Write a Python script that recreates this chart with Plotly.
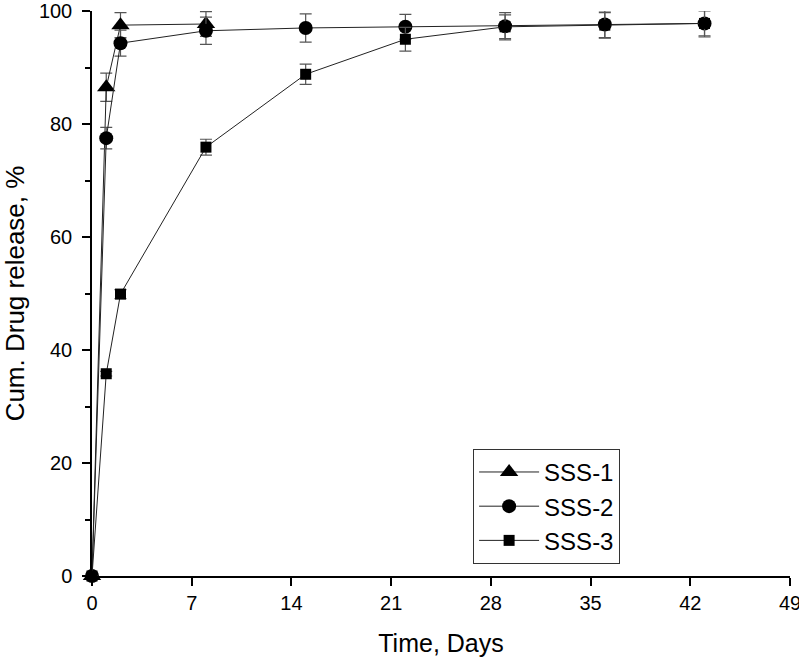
import plotly.graph_objects as go

# Data
days_1 = [0, 1, 2, 8]
sss1 = [0, 86.5, 97.5, 97.7]
sss1_err = [0, 2.5, 2.2, 2.2]

days_2 = [0, 1, 2, 8, 15, 22, 29, 36, 43]
sss2 = [0, 77.5, 94.3, 96.5, 97.0, 97.2, 97.3, 97.6, 97.8]
sss2_err = [0, 1.9, 2.3, 2.4, 2.5, 2.2, 2.4, 2.4, 2.4]

days_3 = [0, 1, 2, 8, 15, 22, 29, 36, 43]
sss3 = [0, 35.8, 49.9, 75.9, 88.8, 95.0, 97.2, 97.5, 97.8]
sss3_err = [0, 0.4, 0.8, 1.4, 1.8, 2.1, 2.1, 2.2, 2.2]

x_ticks = [0, 7, 14, 21, 28, 35, 42, 49]
y_ticks = [0, 20, 40, 60, 80, 100]

font_family = "Liberation Sans, Arial, sans-serif"

fig = go.Figure()

def add_series(x, y, err, name, symbol, size):
    fig.add_trace(go.Scatter(
        x=x, y=y, name=name, mode="lines+markers",
        line=dict(color="#222222", width=1),
        marker=dict(symbol=symbol, size=size, color="black"),
        error_y=dict(type="data", array=err, visible=True,
                     color="#555555", thickness=1.2, width=6),
        cliponaxis=False,
    ))

add_series(days_1, sss1, sss1_err, "SSS-1", "triangle-up", 16)
add_series(days_2, sss2, sss2_err, "SSS-2", "circle", 14)
add_series(days_3, sss3, sss3_err, "SSS-3", "square", 11)

fig.update_layout(
    width=799, height=659,
    margin=dict(l=92, r=9, t=11, b=83),
    paper_bgcolor="white", plot_bgcolor="white",
    font=dict(family=font_family, color="black", size=20),
    showlegend=True,
    legend=dict(
        x=0.546, y=0.225, xanchor="left", yanchor="top",
        bgcolor="white", bordercolor="#333333", borderwidth=1,
        font=dict(size=24, family=font_family),
        itemwidth=60, tracegroupgap=0,
    ),
)

fig.update_xaxes(
    range=[0, 49], tickvals=x_ticks, ticktext=[str(v) for v in x_ticks],
    showgrid=False, zeroline=False, automargin=False,
    ticklabeloverflow="allow",
    showline=True, linecolor="black", linewidth=1.5,
    ticks="outside", ticklen=8, tickwidth=1.5, tickcolor="black",
    title=dict(text="Time, Days", font=dict(size=25), standoff=22),
    tickfont=dict(size=20),
)
fig.update_yaxes(
    range=[0, 100], tickvals=y_ticks, ticktext=[str(v) for v in y_ticks],
    showgrid=False, zeroline=False, automargin=False,
    ticklabeloverflow="allow", ticklabelstandoff=6,
    showline=True, linecolor="black", linewidth=1.5,
    ticks="outside", ticklen=8, tickwidth=1.5, tickcolor="black",
    minor=dict(dtick=10, tick0=0, ticks="outside", ticklen=5, tickwidth=1.5, tickcolor="black"),
    title=dict(text="Cum. Drug release, %", font=dict(size=26), standoff=16),
    tickfont=dict(size=20),
)

fig.write_html("out.html", config={"displayModeBar": False},
               post_script="document.body.style.margin='0';")
